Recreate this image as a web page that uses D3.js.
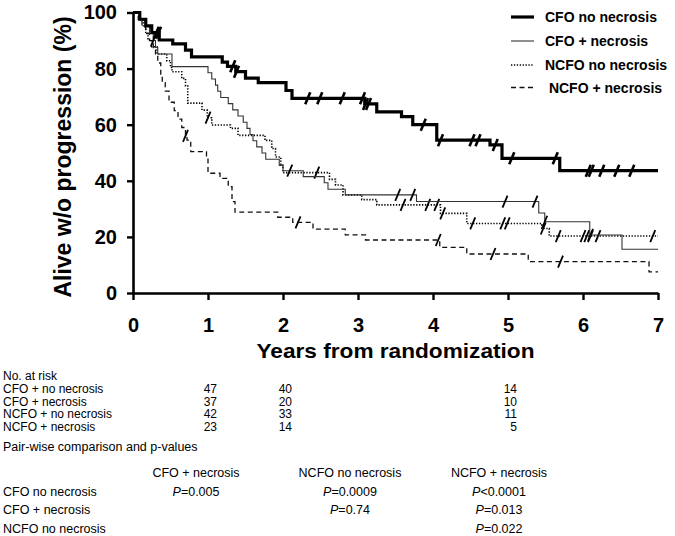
<!DOCTYPE html>
<html><head><meta charset="utf-8">
<script src="https://cdn.jsdelivr.net/npm/d3@7/dist/d3.min.js"></script>
<style>
body{margin:0;background:#fff}
svg{display:block}
text{font-family:"Liberation Sans",Arial,Helvetica,sans-serif;fill:#000}
</style>
</head><body>
<svg id="c" width="675" height="536"></svg>
<script>
// ---------------- data ----------------
const seriesNames = ["CFO no necrosis","CFO + necrosis","NCFO no necrosis","NCFO + necrosis"];
const legendLabels = ["CFO no necrosis","CFO + necrosis","NCFO no necrosis"," NCFO + necrosis"];
const endTime = 7;

// [time (years), % alive w/o progression] at each step
const cfoNoNecrosis = [[0,100],[0.09,97.6],[0.17,95.2],[0.25,92.8],[0.35,90.2],[0.53,88.8],[0.7,86.6],[0.78,84.2],[1.19,82.3],[1.26,80.8],[1.37,78.9],[1.5,76.6],[1.67,75.0],[2.04,72.2],[2.12,69.4],[3.09,67.4],[3.25,64.6],[3.58,62.9],[3.73,60.0],[4.05,54.5],[4.76,52.8],[4.92,48.0],[5.69,43.6]];
const cfoNecrosis = [[0,100],[0.1,97.5],[0.17,95],[0.22,92.5],[0.27,90],[0.3,87.5],[0.33,85.2],[0.52,80.7],[1.0,78.5],[1.05,76.3],[1.1,74.1],[1.13,71.9],[1.17,69.7],[1.27,67.5],[1.33,65.3],[1.4,63.1],[1.47,60.9],[1.52,58.7],[1.56,56.5],[1.6,54.3],[1.65,52.1],[1.72,49.9],[1.77,47.7],[1.95,45.5],[2.0,43.6],[2.27,41.5],[2.55,39.3],[2.6,37.0],[2.83,35.0],[3.78,32.6],[5.41,28.5],[5.49,25.4],[6.09,20.7],[6.52,15.6]];
const ncfoNoNecrosis = [[0,100],[0.08,97.3],[0.14,95],[0.17,92.6],[0.2,90.2],[0.25,87.8],[0.32,85.2],[0.45,82.8],[0.5,80.4],[0.52,78.9],[0.65,76.5],[0.7,73.8],[0.73,67.7],[0.92,65.2],[0.99,62.5],[1.05,59.9],[1.3,58.7],[1.4,56.2],[1.76,54.4],[1.85,51.5],[1.9,48.5],[1.97,45.5],[2.0,42.9],[2.62,40.5],[2.7,38.5],[2.8,35.0],[3.05,33.3],[3.25,31.4],[4.1,28.4],[4.45,24.8],[5.45,23.0],[5.55,20.3]];
const ncfoNecrosis = [[0,100],[0.07,97.5],[0.12,95],[0.17,92.5],[0.22,90],[0.27,87.5],[0.3,85],[0.33,82],[0.37,78],[0.39,75],[0.43,72],[0.48,68],[0.55,65],[0.6,62],[0.65,59],[0.7,56],[0.72,54.5],[0.77,50.4],[0.98,48.0],[1.0,42.7],[1.16,40.9],[1.27,37.9],[1.32,32.6],[1.36,28.8],[1.93,27.0],[2.13,25.2],[2.4,22.8],[2.83,20.7],[3.1,18.9],[4.09,16.3],[4.45,13.9],[5.27,11.2],[6.88,7.5]];

// censoring times (years)
const cfoNoNecrosisCensored = [0.31,0.34,1.33,1.38,2.33,2.49,2.79,3.06,3.1,3.14,3.87,4.1,4.52,4.6,4.83,5.05,5.63,6.07,6.11,6.25,6.45,6.65];
const cfoNecrosisCensored = [0.27,2.09,3.53,3.73,4.96,5.36,5.49,6.1];
const ncfoNoNecrosisCensored = [1.0,2.45,3.6,3.93,4.05,4.13,4.53,4.93,4.99,5.47,5.67,6.0,6.05,6.1,6.2,6.93];
const ncfoNecrosisCensored = [0.7,2.2,4.07,4.8,5.7];

const xTicks = [0,1,2,3,4,5,6,7];
const yTicks = [0,20,40,60,80,100];

const riskTitle = "No. at risk";
const riskLabels = ["CFO + no necrosis","CFO + necrosis","NCFO + no necrosis","NCFO + necrosis"];
const riskTimes = [1,2,5];
const riskCounts = [[47,40,14],[37,20,10],[42,33,11],[23,14,5]];

const pairTitle = "Pair-wise comparison and p-values";
const pairRows = ["CFO no necrosis","CFO + necrosis","NCFO no necrosis"];
const pairCols = ["CFO + necrosis","NCFO no necrosis","NCFO + necrosis"];
const pairValues = [["=0.005","=0.0009","<0.0001"],[null,"=0.74","=0.013"],[null,null,"=0.022"]];

// ---------------- drawing ----------------
const svg = d3.select("#c");
const x = d3.scaleLinear().domain([0,7]).range([133,658]);
const y = d3.scaleLinear().domain([0,100]).range([293,12.5]);

const styles = [
  {w:3.2, dash:null, color:"#000", cw:2.6},
  {w:1.1, dash:null, color:"#333", cw:1.8},
  {w:1.6, dash:"1.3,1.6", color:"#000", cw:1.8},
  {w:1.3, dash:"5,3.5", color:"#111", cw:1.8}
];
const allSeries = [cfoNoNecrosis, cfoNecrosis, ncfoNoNecrosis, ncfoNecrosis];
const allCensored = [cfoNoNecrosisCensored, cfoNecrosisCensored, ncfoNoNecrosisCensored, ncfoNecrosisCensored];

const line = d3.line().x(d=>x(d[0])).y(d=>y(d[1])).curve(d3.curveStepAfter);
function valueAt(s,t){let v=s[0][1];for(const p of s){if(p[0]<=t)v=p[1];}return v;}

// draw order: dashed, dotted, thin, thick
[3,2,1,0].forEach(i=>{
  const s = allSeries[i], st = styles[i];
  const pts = s.concat([[endTime, s[s.length-1][1]]]);
  svg.append("path").attr("d", line(pts)).attr("fill","none")
    .attr("stroke", st.color).attr("stroke-width", st.w)
    .attr("stroke-dasharray", st.dash);
  svg.append("g").selectAll("line").data(allCensored[i]).join("line")
    .attr("x1", t=>x(t)-2.5).attr("y1", t=>y(valueAt(s,t))+6)
    .attr("x2", t=>x(t)+2.5).attr("y2", t=>y(valueAt(s,t))-6)
    .attr("stroke","#000").attr("stroke-width", st.cw);
});

// axes
const yAxis = svg.append("g").attr("transform","translate(133,0)")
  .call(d3.axisLeft(y).tickValues(yTicks).tickSize(6).tickSizeOuter(0).tickPadding(10).tickFormat(d3.format("d")));
const xAxis = svg.append("g").attr("transform","translate(0,293)")
  .call(d3.axisBottom(x).tickValues(xTicks).tickSize(7).tickSizeOuter(0).tickPadding(18).tickFormat(d3.format("d")));
[yAxis,xAxis].forEach(a=>{
  a.select(".domain").attr("stroke","#000").attr("stroke-width",2.6);
  a.selectAll(".tick line").attr("stroke","#000").attr("stroke-width",2.4);
  a.selectAll(".tick text").attr("font-size",20).attr("font-weight","bold").attr("fill","#000")
   .style("font-family",'"Liberation Sans",Arial,sans-serif');
});

svg.append("text").attr("transform","translate(71,157) rotate(-90)")
  .attr("text-anchor","middle").attr("font-size",23).attr("font-weight","bold")
  .text("Alive w/o progression (%)");
svg.append("text").attr("x",(x(0)+x(7))/2).attr("y",358).attr("text-anchor","middle")
  .attr("font-size",21).attr("font-weight","bold")
  .attr("textLength",278).attr("lengthAdjust","spacingAndGlyphs")
  .text("Years from randomization");

// legend
const legY = [17,41,65,87.5];
const leg = svg.append("g");
legendLabels.forEach((lab,i)=>{
  const st = styles[i];
  leg.append("line").attr("x1",511).attr("x2",534).attr("y1",legY[i]).attr("y2",legY[i])
    .attr("stroke",st.color).attr("stroke-width",st.w).attr("stroke-dasharray",st.dash);
  leg.append("text").attr("x",545).attr("y",legY[i]+5).attr("font-size",14)
    .attr("font-weight","bold").style("white-space","pre").text(lab);
});

// number at risk table
const tbl = svg.append("g");
tbl.append("text").attr("x",3).attr("y",380).attr("font-size",12).text(riskTitle);
const riskY = [393,405.5,418,430.5];
riskLabels.forEach((lab,i)=>{
  tbl.append("text").attr("x",3).attr("y",riskY[i]).attr("font-size",12).text(lab);
  riskTimes.forEach((t,j)=>{
    tbl.append("text").attr("x",x(t)+9).attr("y",riskY[i]).attr("text-anchor","end")
      .attr("font-size",12).text(riskCounts[i][j]);
  });
});

// pair-wise p-values
const pt = svg.append("g");
pt.append("text").attr("x",3).attr("y",451).attr("font-size",12.5).text(pairTitle);
const colX = [196,350,499];
const rowY = [495.5,514,532.5];
pairCols.forEach((c,j)=>{
  pt.append("text").attr("x",colX[j]).attr("y",477).attr("text-anchor","middle").attr("font-size",12.5).text(c);
});
pairRows.forEach((r,i)=>{
  pt.append("text").attr("x",3).attr("y",rowY[i]).attr("font-size",12.5).text(r);
  pairValues[i].forEach((v,j)=>{
    if(v==null) return;
    const t = pt.append("text").attr("x",colX[j]).attr("y",rowY[i]).attr("text-anchor","middle").attr("font-size",12.5);
    t.append("tspan").attr("font-style","italic").text("P");
    t.append("tspan").text(v);
  });
});
</script>
</body></html>
